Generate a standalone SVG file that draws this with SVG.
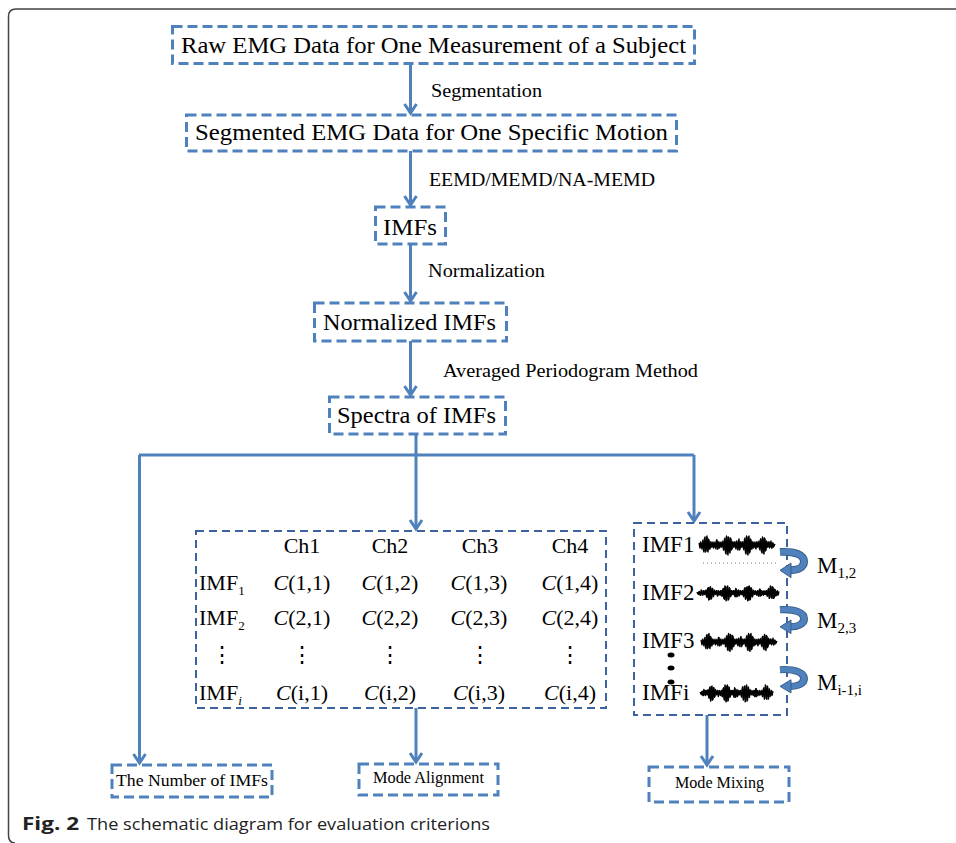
<svg xmlns="http://www.w3.org/2000/svg" xmlns:xlink="http://www.w3.org/1999/xlink" width="956" height="843" viewBox="0 0 956 843">
<style>
.box{fill:none;stroke:#4f81bd;stroke-width:3;stroke-dasharray:10 5}
.dbox{fill:none;stroke:#3d62a0;stroke-width:2;stroke-dasharray:8 5}
.arr{fill:none;stroke:#4f81bd;stroke-width:3}
.t{font-family:"Liberation Serif","Times New Roman",serif;fill:#000}
.big{font-size:23px}
.lab{font-size:19.5px}
.mx{font-size:22px}
.sm{font-size:17px}
.cap{font-family:"Open Sans","Noto Sans","Liberation Sans",sans-serif;font-size:17px;fill:#222}
.wave{fill:none;stroke:#000;stroke-width:1.3;stroke-linejoin:round}
</style>
<defs>
<marker id="ah" viewBox="-12 -9 14 18" refX="0" refY="0" markerWidth="14" markerHeight="18" markerUnits="userSpaceOnUse" orient="auto" overflow="visible">
<path d="M-9,-6 L0,0 L-9,6" fill="none" stroke="#4f81bd" stroke-width="3"/>
</marker>
<g id="wave">
<path class="wave" d="M0,0 H76"/>
<polyline class="wave" points="0,-2 1,3 2,-2 3,4 4,-5 5,7 6,-8 7,6 8,-9 9,7 10,-5 11,4 12,-3 13,2 14,-3 15,2 16,-3 17,4 18,-5 19,4 20,-3 21,2 22,-3 23,2 24,-4 25,5 26,-7 27,9 28,-8 29,10 30,-7 31,8 32,-6 33,4 34,-3 35,2 36,-3 37,4 38,-3 39,5 40,-6 41,4 42,-3 43,2 44,-3 45,5 46,-7 47,9 48,-8 49,10 50,-9 51,7 52,-5 53,4 54,-3 55,2 56,-3 57,4 58,-3 59,2 60,-4 61,5 62,-6 63,8 64,-7 65,9 66,-6 67,5 68,-3 69,2 70,-3 71,2 72,-4 73,3 74,-2 75,1 76,-1"/>
<polyline class="wave" points="0.5,2 1.5,-3 2.5,3 3.5,-4 4.5,6 5.5,-7 6.5,7 7.5,-8 8.5,6 9.5,-6 10.5,4 11.5,-3 12.5,2 13.5,-2 14.5,3 15.5,-2 16.5,3 17.5,-5 18.5,4 19.5,-3 20.5,3 21.5,-2 22.5,2 23.5,-3 24.5,5 25.5,-6 26.5,8 27.5,-9 28.5,9 29.5,-8 30.5,7 31.5,-7 32.5,5 33.5,-3 34.5,2 35.5,-3 36.5,3 37.5,-4 38.5,4 39.5,-5 40.5,5 41.5,-3 42.5,2 43.5,-3 44.5,4 45.5,-6 46.5,8 47.5,-9 48.5,9 49.5,-8 50.5,8 51.5,-6 52.5,4 53.5,-3 54.5,3 55.5,-2 56.5,3 57.5,-3 58.5,2 59.5,-3 60.5,4 61.5,-6 62.5,7 63.5,-8 64.5,8 65.5,-7 66.5,6 67.5,-4 68.5,2 69.5,-3 70.5,3 71.5,-3 72.5,3 73.5,-2 74.5,2 75.5,-1"/>
</g>
<g id="curl">
<path d="M0,3 C15,2 24,6 24,13 C24,19 18,22 9,22" fill="none" stroke="#385d8a" stroke-width="8"/>
<path d="M0,3 C15,2 24,6 24,13 C24,19 18,22 9,22" fill="none" stroke="#4f81bd" stroke-width="6"/>
<polygon points="0,22 11,14.5 11,29.5" fill="#4f81bd" stroke="#385d8a" stroke-width="1"/>
</g>
</defs>

<rect width="956" height="843" fill="#fff"/>
<path d="M956,9 H16 Q8.5,9 8.5,16.5 V835 Q8.5,843 15,843" fill="none" stroke="#444" stroke-width="1.5"/>

<g id="connectors">
<line class="arr" x1="410.5" y1="63" x2="410.5" y2="113" marker-end="url(#ah)"/>
<line class="arr" x1="410.5" y1="151" x2="410.5" y2="205" marker-end="url(#ah)"/>
<line class="arr" x1="410.5" y1="244" x2="410.5" y2="301" marker-end="url(#ah)"/>
<line class="arr" x1="410.5" y1="341" x2="410.5" y2="395" marker-end="url(#ah)"/>
<path class="arr" d="M416,434 V455"/>
<path class="arr" d="M139,455 H694"/>
<line class="arr" x1="139.5" y1="455" x2="139.5" y2="763" marker-end="url(#ah)"/>
<line class="arr" x1="416" y1="455" x2="416" y2="529" marker-end="url(#ah)"/>
<line class="arr" x1="694" y1="455" x2="694" y2="521" marker-end="url(#ah)"/>
<line class="arr" x1="416" y1="708" x2="416" y2="762" marker-end="url(#ah)"/>
<line class="arr" x1="707" y1="715" x2="707" y2="765" marker-end="url(#ah)"/>
<text class="t lab" x="431" y="97" textLength="111" lengthAdjust="spacingAndGlyphs">Segmentation</text>
<text class="t lab" x="429" y="186" textLength="226" lengthAdjust="spacingAndGlyphs">EEMD/MEMD/NA-MEMD</text>
<text class="t lab" x="428" y="277" textLength="117" lengthAdjust="spacingAndGlyphs">Normalization</text>
<text class="t lab" x="443" y="377" textLength="255" lengthAdjust="spacingAndGlyphs">Averaged Periodogram Method</text>
</g>

<g id="raw">
<rect class="box" x="172.5" y="26.5" width="522" height="37"/>
<text class="t big" x="181" y="53" textLength="505" lengthAdjust="spacingAndGlyphs">Raw EMG Data for One Measurement of a Subject</text>
</g>
<g id="segmented">
<rect class="box" x="186.5" y="115" width="490" height="36"/>
<text class="t big" x="195" y="140" textLength="473" lengthAdjust="spacingAndGlyphs">Segmented EMG Data for One Specific Motion</text>
</g>
<g id="imfs">
<rect class="box" x="375.5" y="207" width="70" height="37"/>
<text class="t big" x="383" y="235" textLength="54" lengthAdjust="spacingAndGlyphs">IMFs</text>
</g>
<g id="normalized">
<rect class="box" x="314.5" y="303" width="192" height="38"/>
<text class="t big" x="323" y="330" textLength="173" lengthAdjust="spacingAndGlyphs">Normalized IMFs</text>
</g>
<g id="spectra">
<rect class="box" x="329.5" y="397" width="176" height="37"/>
<text class="t big" x="337" y="423" textLength="159" lengthAdjust="spacingAndGlyphs">Spectra of IMFs</text>
</g>

<g id="matrix">
<rect class="dbox" x="196" y="531" width="410" height="177"/>
<g class="t mx" text-anchor="middle">
<text x="302" y="553">Ch1</text>
<text x="390" y="553">Ch2</text>
<text x="480" y="553">Ch3</text>
<text x="570" y="553">Ch4</text>
<text x="302" y="590"><tspan font-style="italic">C</tspan>(1,1)</text>
<text x="390" y="590"><tspan font-style="italic">C</tspan>(1,2)</text>
<text x="479" y="590"><tspan font-style="italic">C</tspan>(1,3)</text>
<text x="570" y="590"><tspan font-style="italic">C</tspan>(1,4)</text>
<text x="302" y="625"><tspan font-style="italic">C</tspan>(2,1)</text>
<text x="390" y="625"><tspan font-style="italic">C</tspan>(2,2)</text>
<text x="479" y="625"><tspan font-style="italic">C</tspan>(2,3)</text>
<text x="570" y="625"><tspan font-style="italic">C</tspan>(2,4)</text>
<text x="222" y="662">⋮</text>
<text x="302" y="662">⋮</text>
<text x="390" y="662">⋮</text>
<text x="480" y="662">⋮</text>
<text x="570" y="662">⋮</text>
<text x="302" y="700"><tspan font-style="italic">C</tspan>(i,1)</text>
<text x="390" y="700"><tspan font-style="italic">C</tspan>(i,2)</text>
<text x="479" y="700"><tspan font-style="italic">C</tspan>(i,3)</text>
<text x="570" y="700"><tspan font-style="italic">C</tspan>(i,4)</text>
</g>
<text class="t mx" x="199" y="590">IMF<tspan font-size="13" dy="5">1</tspan></text>
<text class="t mx" x="199" y="625">IMF<tspan font-size="13" dy="5">2</tspan></text>
<text class="t mx" x="199" y="700">IMF<tspan font-size="13" dy="5" font-style="italic">i</tspan></text>
</g>

<g id="mixing">
<rect class="dbox" x="634" y="523" width="153" height="192"/>
<text class="t big" x="642" y="552">IMF1</text>
<text class="t big" x="642" y="600">IMF2</text>
<text class="t big" x="642" y="648">IMF3</text>
<text class="t big" x="642" y="700">IMFi</text>
<use xlink:href="#wave" transform="translate(699,545)"/>
<use xlink:href="#wave" transform="translate(779,593) scale(-1.08,0.8)"/>
<use xlink:href="#wave" transform="translate(701,642) scale(1.0,0.95)"/>
<use xlink:href="#wave" transform="translate(773,693) scale(-0.96,0.9)"/>
<line x1="703" y1="563" x2="777" y2="563" stroke="#777" stroke-width="1" stroke-dasharray="1 3"/>
<ellipse cx="671" cy="655" rx="3.5" ry="2.5" fill="#000"/>
<ellipse cx="671" cy="668" rx="3.5" ry="2.5" fill="#000"/>
<ellipse cx="671" cy="682" rx="3.5" ry="2.5" fill="#000"/>
<use xlink:href="#curl" transform="translate(780,549) scale(1,0.97)"/>
<use xlink:href="#curl" transform="translate(780,607) scale(1,0.9)"/>
<use xlink:href="#curl" transform="translate(780,667) scale(1,0.88)"/>
<text class="t big" x="817" y="573">M<tspan font-size="15" dy="5">1,2</tspan></text>
<text class="t big" x="817" y="628">M<tspan font-size="15" dy="5">2,3</tspan></text>
<text class="t big" x="817" y="690">M<tspan font-size="15" dy="5">i-1,i</tspan></text>
</g>

<g id="number">
<rect class="box" x="112" y="765" width="160" height="32"/>
<text class="t sm" x="116" y="786" textLength="152" lengthAdjust="spacingAndGlyphs">The Number of IMFs</text>
</g>
<g id="alignment">
<rect class="box" x="359" y="764" width="139" height="31"/>
<text class="t" font-size="16" x="373" y="783" textLength="111" lengthAdjust="spacingAndGlyphs">Mode Alignment</text>
</g>
<g id="mixingLabel">
<rect class="box" x="649" y="767" width="140" height="35"/>
<text class="t" font-size="16" x="675" y="788" textLength="89" lengthAdjust="spacingAndGlyphs">Mode Mixing</text>
</g>

<text class="cap" x="22" y="830"><tspan font-weight="bold" textLength="57" lengthAdjust="spacingAndGlyphs">Fig. 2</tspan></text>
<text class="cap" x="87" y="830" textLength="403" lengthAdjust="spacingAndGlyphs">The schematic diagram for evaluation criterions</text>
</svg>
